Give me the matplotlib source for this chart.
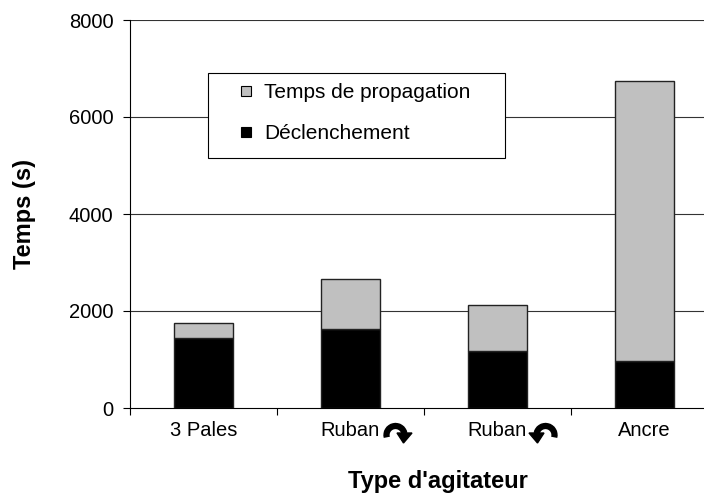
import matplotlib
matplotlib.use("Agg")
import matplotlib.pyplot as plt
import matplotlib.patches as mpatches
from matplotlib.lines import Line2D
from matplotlib.transforms import IdentityTransform
import numpy as np

categories = ["3 Pales", "Ruban", "Ruban", "Ancre"]
arrow_dirs = [None, "cw", "ccw", None]
declenchement = [1450, 1625, 1170, 960]
propagation = [300, 1025, 950, 5780]
yticks = [0, 2000, 4000, 6000, 8000]
legend_labels = ["Temps de propagation", "Déclenchement"]

plt.rcParams['font.family'] = ['Liberation Sans', 'DejaVu Sans']

W, H = 704, 493
fig = plt.figure(figsize=(W/100, H/100), dpi=100)
ax = fig.add_axes([130/W, 1-408/H, 588/W, (408-20)/H])

x = np.arange(len(categories))
w = 0.40
edge = '#222222'
b1 = ax.bar(x, declenchement, w, color='black', edgecolor=edge, linewidth=1, zorder=3)
b2 = ax.bar(x, propagation, w, bottom=declenchement, color='#c0c0c0', edgecolor=edge, linewidth=1, zorder=3)

for v in yticks[1:]:
    ax.axhline(v, color='#333333', linewidth=0.8, zorder=1)

ax.set_xlim(-0.5, len(categories) - 0.5)
ax.set_ylim(0, 8000)
ax.set_yticks(yticks)
ax.set_yticklabels([str(t) for t in yticks], fontsize=14.5)
ax.set_xticks(x)
ax.set_xticklabels(categories, fontsize=14.5)
ax.tick_params(axis='x', length=0, pad=9)
ax.set_xticks(np.arange(-0.5, len(categories), 1), minor=True)
ax.tick_params(axis='x', which='minor', length=5, direction='out', width=0.8)
ax.tick_params(axis='y', length=5, direction='out', pad=7, width=0.8)
for s in ['top', 'right']:
    ax.spines[s].set_visible(False)
ax.spines['left'].set_linewidth(0.8)
ax.spines['bottom'].set_linewidth(0.8)

ax.set_ylabel('Temps (s)', fontsize=17, fontweight='bold')
ax.yaxis.set_label_coords((36-130)/588, 0.5)
ax.set_xlabel("Type d'agitateur", fontsize=17, fontweight='bold')
ax.xaxis.set_label_coords((438-130)/588, -(470-408)/388)

# curved arrows next to "Ruban"
trans = ax.get_xaxis_transform()
for xi, d in zip(x, arrow_dirs):
    if d is None:
        continue
    px, py = trans.transform((xi, 0))
    s = 1 if d == "cw" else -1
    r = 9
    acx, acy = px + (45 if d == "cw" else 48), py - 27
    if d == "cw":
        t1, t2 = 10, 195
    else:
        t1, t2 = -15, 170
    arc = mpatches.Arc((acx, acy), 2*r, 2*r, theta1=t1, theta2=t2, lw=4.5,
                       color='black', transform=IdentityTransform(), capstyle='butt')
    fig.add_artist(arc)
    hx = acx + s*r
    head = mpatches.Polygon([[hx - 7.5, acy + 2], [hx + 7.5, acy + 2], [hx - s*1, acy - 8]],
                            closed=True, color='black', transform=IdentityTransform())
    fig.add_artist(head)

# legend frame (Excel style)
frame = mpatches.Rectangle((208/W, 1-158/H), (505-208)/W, (158-73)/H, transform=fig.transFigure,
                           facecolor='white', edgecolor='black', linewidth=0.8, zorder=5)
fig.add_artist(frame)
handles = [Line2D([], [], linestyle='none', marker='s', markersize=6.5, markerfacecolor='#c0c0c0',
                  markeredgecolor='black', markeredgewidth=0.8),
           Line2D([], [], linestyle='none', marker='s', markersize=6.5, markerfacecolor='black',
                  markeredgecolor='black', markeredgewidth=0.8)]
leg = fig.legend(handles=handles, labels=legend_labels, loc='upper left',
                 bbox_to_anchor=(240/W, 1-83/H), fontsize=15, frameon=False,
                 handlelength=0.6, handletextpad=0.55, borderpad=0, labelspacing=1.05,
                 borderaxespad=0)
leg.set_zorder(6)

fig.savefig('out.png', dpi=100)
